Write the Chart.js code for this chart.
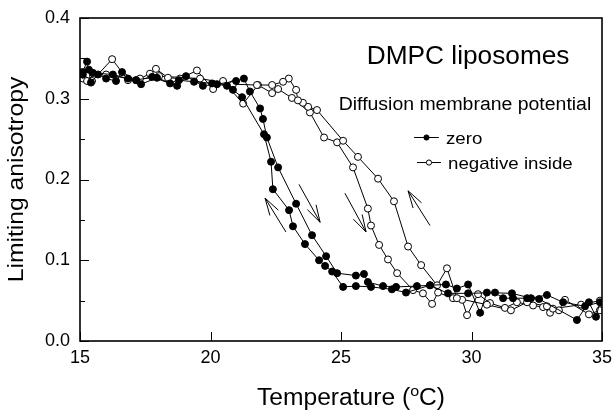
<!DOCTYPE html>
<html>
<head>
<meta charset="utf-8">
<script src="https://cdn.jsdelivr.net/npm/chart.js@4/dist/chart.umd.min.js"></script>
<style>
  html, body { margin: 0; padding: 0; background: #fff; }
</style>
</head>
<body>
<canvas id="chart" width="614" height="415"></canvas>
<script>
// zero potential: heating run then cooling run
const zeroHeatT = [15.1, 15.27, 15.42, 15.69, 16.0, 16.38, 16.61, 17.15, 17.76, 18.45, 19.06, 19.71, 20.25, 20.98, 21.28, 21.51, 21.9, 22.01, 22.16, 22.59, 23.28, 23.89, 24.43, 24.85, 25.57, 25.88, 26.03, 26.61, 27.11, 27.91, 28.41, 29.02, 29.44, 29.87, 30.33, 30.59, 31.55, 32.28, 32.89, 33.51, 34.35, 34.92];
const zeroHeatA = [0.333, 0.346, 0.320, 0.330, 0.325, 0.322, 0.333, 0.323, 0.327, 0.319, 0.328, 0.316, 0.318, 0.322, 0.325, 0.309, 0.288, 0.275, 0.252, 0.215, 0.170, 0.131, 0.105, 0.084, 0.081, 0.083, 0.073, 0.068, 0.067, 0.068, 0.069, 0.070, 0.065, 0.070, 0.035, 0.060, 0.059, 0.053, 0.057, 0.048, 0.043, 0.048];
const zeroCoolT = [34.77, 34.5, 34.04, 32.59, 32.13, 31.59, 31.21, 30.9, 29.87, 29.1, 28.41, 27.49, 26.95, 26.15, 25.57, 25.08, 24.66, 24.39, 24.16, 23.62, 23.16, 23.01, 22.39, 22.32, 22.05, 21.21, 20.86, 20.63, 20.06, 19.37, 18.79, 18.72, 17.95, 17.34, 16.84, 16.26, 15.5, 15.34, 15.1];
const zeroCoolA = [0.030, 0.048, 0.026, 0.052, 0.053, 0.053, 0.053, 0.060, 0.059, 0.059, 0.069, 0.060, 0.064, 0.067, 0.068, 0.067, 0.086, 0.093, 0.100, 0.120, 0.142, 0.162, 0.188, 0.222, 0.256, 0.302, 0.311, 0.316, 0.319, 0.321, 0.323, 0.316, 0.326, 0.318, 0.325, 0.330, 0.332, 0.336, 0.330];

// negative inside
const negHeatT = [15.11, 15.27, 15.46, 16.23, 16.84, 17.30, 17.68, 17.91, 18.37, 18.83, 19.48, 20.10, 20.48, 21.25, 21.82, 22.36, 22.59, 23.12, 23.81, 24.35, 24.85, 25.46, 26.03, 26.15, 26.46, 26.80, 27.15, 27.76, 28.14, 28.49, 28.72, 29.29, 29.64, 29.83, 30.25, 30.71, 31.28, 31.74, 32.36, 32.74, 33.01, 33.35, 33.58, 34.50, 34.92];
const negHeatA = [0.325, 0.322, 0.322, 0.349, 0.323, 0.325, 0.331, 0.337, 0.326, 0.325, 0.335, 0.312, 0.322, 0.294, 0.317, 0.307, 0.312, 0.301, 0.283, 0.252, 0.246, 0.215, 0.164, 0.143, 0.119, 0.101, 0.084, 0.063, 0.059, 0.046, 0.060, 0.053, 0.051, 0.032, 0.058, 0.047, 0.041, 0.048, 0.044, 0.042, 0.035, 0.038, 0.051, 0.033, 0.038];
const negCoolT = [34.92, 34.2, 33.12, 32.89, 32.13, 31.51, 30.59, 29.44, 29.06, 28.68, 28.07, 27.57, 27.03, 26.42, 25.65, 25.08, 24.08, 23.74, 23.54, 23.35, 23.28, 23.0, 22.78, 22.36, 21.78, 20.86, 19.6, 18.03, 17.15, 16.0, 15.34, 15.1];
const negCoolA = [0.050, 0.045, 0.040, 0.043, 0.048, 0.038, 0.045, 0.053, 0.090, 0.069, 0.094, 0.117, 0.173, 0.201, 0.228, 0.248, 0.286, 0.290, 0.295, 0.298, 0.311, 0.325, 0.321, 0.317, 0.317, 0.318, 0.325, 0.328, 0.323, 0.330, 0.330, 0.330];

// arrows: tail T, tail A, head T, head A
const arrows = [
  [22.89, 0.135, 22.09, 0.177],
  [23.39, 0.194, 24.20, 0.147],
  [25.15, 0.183, 25.96, 0.135],
  [28.41, 0.143, 27.57, 0.186]
];

const FONT = '"Liberation Sans", Arial, Helvetica, sans-serif';

function pts(xs, ys) {
  return xs.map((x, i) => ({ x: x, y: ys[i] }));
}

function arrow(ctx, x1, y1, x2, y2) {
  const a = Math.atan2(y2 - y1, x2 - x1), L = 18, w = 0.28;
  ctx.beginPath();
  ctx.moveTo(x1, y1);
  ctx.lineTo(x2, y2);
  ctx.moveTo(x2 - L * Math.cos(a - w), y2 - L * Math.sin(a - w));
  ctx.lineTo(x2, y2);
  ctx.lineTo(x2 - L * Math.cos(a + w), y2 - L * Math.sin(a + w));
  ctx.stroke();
}

function text(ctx, str, x, y, size, align, sx) {
  ctx.save();
  ctx.font = size + 'px ' + FONT;
  ctx.textAlign = align;
  ctx.textBaseline = 'alphabetic';
  ctx.translate(x, y);
  ctx.scale(sx || 1, 1);
  ctx.fillText(str, 0, 0);
  ctx.restore();
}

const deco = {
  id: 'deco',
  afterDraw(chart) {
    const ctx = chart.ctx, a = chart.chartArea;
    const xs = chart.scales.x, ys = chart.scales.y;
    ctx.save();
    ctx.strokeStyle = '#000';
    ctx.fillStyle = '#000';

    // frame
    ctx.lineWidth = 1.6;
    ctx.strokeRect(a.left, a.top, a.right - a.left, a.bottom - a.top);

    // inner ticks
    ctx.lineWidth = 1;
    ctx.beginPath();
    ys.ticks.forEach(t => {
      const major = Math.round(t.value * 100) % 10 === 0;
      const py = Math.round(ys.getPixelForValue(t.value)) + 0.5;
      ctx.moveTo(a.left, py);
      ctx.lineTo(a.left + (major ? 9 : 5), py);
    });
    xs.ticks.forEach(t => {
      const px = Math.round(xs.getPixelForValue(t.value)) + 0.5;
      ctx.moveTo(px, a.bottom);
      ctx.lineTo(px, a.bottom - 9);
    });
    ctx.stroke();

    // arrows
    ctx.lineWidth = 1;
    arrows.forEach(r => arrow(ctx,
      xs.getPixelForValue(r[0]), ys.getPixelForValue(r[1]),
      xs.getPixelForValue(r[2]), ys.getPixelForValue(r[3])));

    // annotations
    text(ctx, 'DMPC liposomes', xs.getPixelForValue(29.87), ys.getPixelForValue(0.343), 25, 'center', 1.05);
    text(ctx, 'Diffusion membrane potential', xs.getPixelForValue(29.75), ys.getPixelForValue(0.286), 18, 'center', 1.08);

    // legend
    const rows = [[0.252, 27.80, 28.75, 29.02], [0.221, 27.91, 28.83, 29.10]];
    chart.data.datasets.forEach((ds, i) => {
      const r = rows[i];
      const py = ys.getPixelForValue(r[0]);
      const x1 = xs.getPixelForValue(r[1]), x2 = xs.getPixelForValue(r[2]);
      ctx.beginPath();
      ctx.moveTo(x1, py);
      ctx.lineTo(x2, py);
      ctx.stroke();
      ctx.beginPath();
      ctx.arc((x1 + x2) / 2, py, 2.6, 0, Math.PI * 2);
      ctx.fillStyle = ds.pointBackgroundColor;
      ctx.fill();
      ctx.stroke();
      ctx.fillStyle = '#000';
      text(ctx, ds.label, xs.getPixelForValue(r[3]), py + 6, 17, 'left', 1.1);
    });

    // axis titles
    ctx.save();
    ctx.translate(17, (a.top + a.bottom) / 2);
    ctx.rotate(-Math.PI / 2);
    ctx.font = '22px ' + FONT;
    ctx.textAlign = 'center';
    ctx.textBaseline = 'middle';
    ctx.scale(1.12, 1);
    ctx.fillText('Limiting anisotropy', 0, 0);
    ctx.restore();

    const p1 = 'Temperature (', sup = 'o', p2 = 'C)';
    const sx = 1.07;
    ctx.font = '23px ' + FONT;
    const w1 = ctx.measureText(p1).width * sx, w2 = ctx.measureText(p2).width * sx;
    ctx.font = '15px ' + FONT;
    const ws = ctx.measureText(sup).width * sx;
    const total = w1 + ws + w2;
    const x0 = (a.left + a.right) / 2 + 10 - total / 2;
    const by = 405;
    text(ctx, p1, x0, by, 23, 'left', sx);
    text(ctx, sup, x0 + w1, by - 9, 15, 'left', sx);
    text(ctx, p2, x0 + w1 + ws, by, 23, 'left', sx);
    ctx.restore();
  }
};

new Chart(document.getElementById('chart').getContext('2d'), {
  type: 'scatter',
  data: {
    datasets: [
      {
        label: 'zero',
        data: pts(zeroHeatT, zeroHeatA).concat(pts(zeroCoolT, zeroCoolA)),
        showLine: true,
        borderColor: '#000',
        borderWidth: 1,
        pointRadius: 3.5,
        pointBackgroundColor: '#000',
        pointBorderColor: '#000',
        pointBorderWidth: 1
      },
      {
        label: 'negative inside',
        data: pts(negHeatT, negHeatA).concat(pts(negCoolT, negCoolA)),
        showLine: true,
        borderColor: '#000',
        borderWidth: 1,
        pointRadius: 3.5,
        pointBackgroundColor: '#fff',
        pointBorderColor: '#000',
        pointBorderWidth: 1
      }
    ]
  },
  options: {
    responsive: false,
    animation: false,
    devicePixelRatio: 1,
    layout: { padding: { top: 18, right: 12, left: 0, bottom: 0 } },
    plugins: { legend: { display: false }, tooltip: { enabled: false } },
    scales: {
      x: {
        type: 'linear', min: 15, max: 35,
        ticks: { stepSize: 5, padding: 6, color: '#000', maxRotation: 0, font: { family: FONT, size: 18 } },
        grid: { display: false, drawTicks: false },
        border: { display: false },
        afterFit(s) { s.height = 74; s.paddingLeft = 0; s.paddingRight = 0; }
      },
      y: {
        min: 0, max: 0.4,
        ticks: {
          stepSize: 0.05, padding: 10, color: '#000', font: { family: FONT, size: 18 },
          callback(v) { return Math.round(v * 100) % 10 === 0 ? v.toFixed(1) : ''; }
        },
        grid: { display: false, drawTicks: false },
        border: { display: false },
        afterFit(s) { s.width = 80; s.paddingTop = 0; s.paddingBottom = 0; }
      }
    }
  },
  plugins: [deco]
});
</script>
</body>
</html>
